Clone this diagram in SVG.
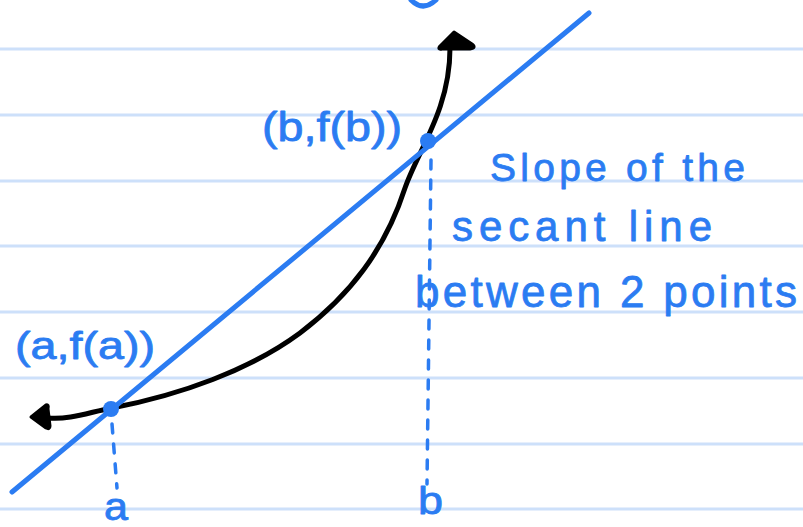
<svg xmlns="http://www.w3.org/2000/svg" width="803" height="527" viewBox="0 0 803 527">
<style>
.rule{stroke:#cde0fa;stroke-width:3}
.blue{fill:#2b7cf2}
.txt{font-family:"Liberation Sans",Arial,sans-serif;fill:#2b7cf2;stroke:#2b7cf2;stroke-width:0.8;stroke-linejoin:round}
.dash{stroke:#2b7cf2;stroke-width:3.5;stroke-dasharray:9 11;stroke-linecap:round;fill:none}
</style>
<rect width="803" height="527" fill="#ffffff"/>
<g id="paper">
<line class="rule" x1="0" y1="49" x2="803" y2="49"/>
<line class="rule" x1="0" y1="115" x2="803" y2="115"/>
<line class="rule" x1="0" y1="181" x2="803" y2="181"/>
<line class="rule" x1="0" y1="246" x2="803" y2="246"/>
<line class="rule" x1="0" y1="312" x2="803" y2="312"/>
<line class="rule" x1="0" y1="378" x2="803" y2="378"/>
<line class="rule" x1="0" y1="444" x2="803" y2="444"/>
<line class="rule" x1="0" y1="509" x2="803" y2="509"/>
</g>
<g id="top-fragment">
<path d="M411,0 Q423,12 436,0" fill="none" stroke="#2b7cf2" stroke-width="5" stroke-linecap="round"/>
</g>
<g id="connectors">
<path id="curve" d="M48,418 C70,420 90,412 112,408 C180,395 250,370 300,333 C350,295 385,250 405,188 C418,150 450,110 450,48" fill="none" stroke="#000" stroke-width="5" stroke-linecap="round" stroke-linejoin="round"/>
<path id="arrow-top" d="M454,32 L440,46 Q437,50 442,49 L470,49 Q477,48 472,44 Z" fill="#000" stroke="#000" stroke-width="3" stroke-linejoin="round"/>
<path id="arrow-left" d="M31,417 L46,405 Q49,404 48,409 L50,426 Q50,430 46,428 Z" fill="#000" stroke="#000" stroke-width="3" stroke-linejoin="round"/>
<line id="secant" x1="12" y1="492" x2="589" y2="13" stroke="#2b7cf2" stroke-width="5" stroke-linecap="round"/>
<line id="dash-a" class="dash" x1="112" y1="424" x2="117" y2="488"/>
<line id="dash-b" class="dash" x1="431" y1="160" x2="427" y2="484"/>
</g>
<g id="point-a">
<circle class="blue" cx="111" cy="409" r="8"/>
<text class="txt" x="15" y="359" font-size="38" textLength="140" lengthAdjust="spacingAndGlyphs">(a,f(a))</text>
</g>
<g id="point-b">
<circle class="blue" cx="428" cy="141" r="8"/>
<text class="txt" x="262" y="141" font-size="40" textLength="140" lengthAdjust="spacingAndGlyphs">(b,f(b))</text>
</g>
<g id="label-a">
<text class="txt" x="104" y="520" font-size="38" textLength="24" lengthAdjust="spacingAndGlyphs">a</text>
</g>
<g id="label-b">
<text class="txt" x="418" y="514" font-size="38" textLength="25" lengthAdjust="spacingAndGlyphs">b</text>
</g>
<g id="note">
<text class="txt" x="490" y="181" font-size="39" textLength="255" lengthAdjust="spacing">Slope of the</text>
<text class="txt" x="452" y="241" font-size="42" textLength="260" lengthAdjust="spacing">secant line</text>
<text class="txt" x="415" y="307" font-size="44" textLength="382" lengthAdjust="spacing">between 2 points</text>
</g>
</svg>
